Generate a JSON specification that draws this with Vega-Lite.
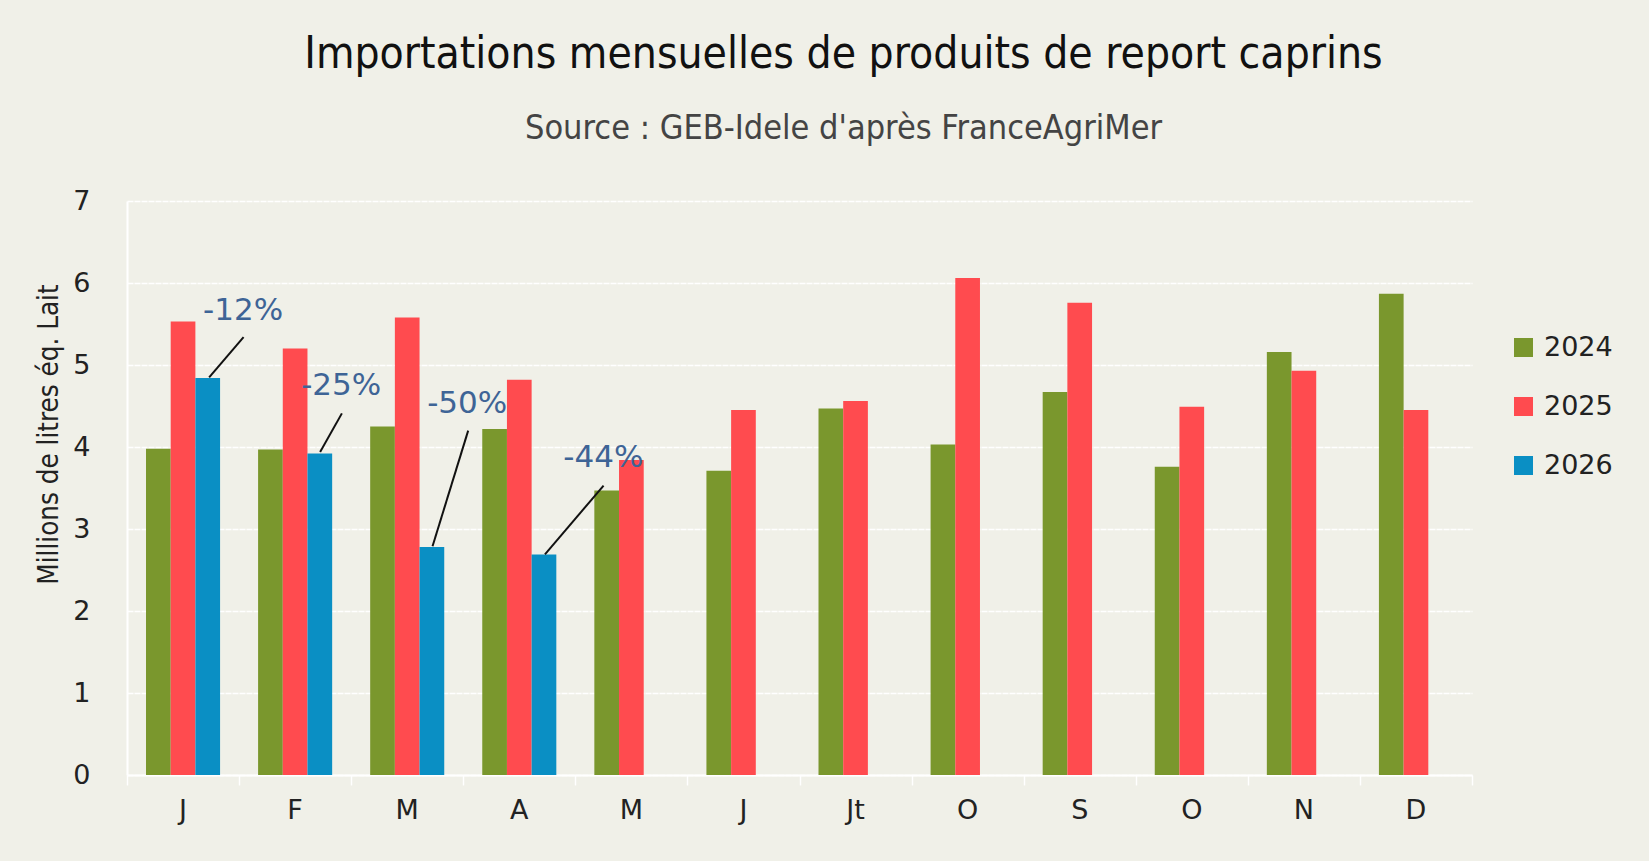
{
  "$schema": "https://vega.github.io/schema/vega-lite/v6.json",
  "autosize": {"type": "none"},
  "width": 1345,
  "height": 574,
  "padding": {"left": 127, "top": 201, "right": 177, "bottom": 86},
  "background": "#F0F0E8",
  "title": {
    "text": "Importations mensuelles de produits de report caprins",
    "subtitle": "Source : GEB-Idele d'après FranceAgriMer",
    "anchor": "middle",
    "frame": "group",
    "dx": 44,
    "offset": 41,
    "font": "Liberation Sans Narrow, DejaVu Sans Condensed, sans-serif",
    "fontSize": 44,
    "fontWeight": "normal",
    "color": "#111111",
    "subtitleFont": "Liberation Sans Narrow, DejaVu Sans Condensed, sans-serif",
    "subtitleFontSize": 34,
    "subtitleColor": "#444444",
    "subtitlePadding": 35
  },
  "config": {
    "view": {"stroke": null},
    "axis": {"labelFont": "DejaVu Sans", "labelColor": "#222222"}
  },
  "datasets": {
    "bars": [
      {"m": 1, "annee": "2024", "valeur": 3.98},
      {"m": 1, "annee": "2025", "valeur": 5.53},
      {"m": 1, "annee": "2026", "valeur": 4.84},
      {"m": 2, "annee": "2024", "valeur": 3.97},
      {"m": 2, "annee": "2025", "valeur": 5.20},
      {"m": 2, "annee": "2026", "valeur": 3.92},
      {"m": 3, "annee": "2024", "valeur": 4.25},
      {"m": 3, "annee": "2025", "valeur": 5.58},
      {"m": 3, "annee": "2026", "valeur": 2.78},
      {"m": 4, "annee": "2024", "valeur": 4.22},
      {"m": 4, "annee": "2025", "valeur": 4.82},
      {"m": 4, "annee": "2026", "valeur": 2.69},
      {"m": 5, "annee": "2024", "valeur": 3.47},
      {"m": 5, "annee": "2025", "valeur": 3.84},
      {"m": 6, "annee": "2024", "valeur": 3.71},
      {"m": 6, "annee": "2025", "valeur": 4.45},
      {"m": 7, "annee": "2024", "valeur": 4.47},
      {"m": 7, "annee": "2025", "valeur": 4.56},
      {"m": 8, "annee": "2024", "valeur": 4.03},
      {"m": 8, "annee": "2025", "valeur": 6.06},
      {"m": 9, "annee": "2024", "valeur": 4.67},
      {"m": 9, "annee": "2025", "valeur": 5.76},
      {"m": 10, "annee": "2024", "valeur": 3.76},
      {"m": 10, "annee": "2025", "valeur": 4.49},
      {"m": 11, "annee": "2024", "valeur": 5.16},
      {"m": 11, "annee": "2025", "valeur": 4.93},
      {"m": 12, "annee": "2024", "valeur": 5.87},
      {"m": 12, "annee": "2025", "valeur": 4.45}
    ],
    "annotations": [
      {"label": "-12%", "x_barre": 0.733, "y_barre": 4.85, "x_fin": 1.040, "y_fin": 5.34, "x_texte": 1.036, "y_texte": 5.66},
      {"label": "-25%", "x_barre": 1.723, "y_barre": 3.94, "x_fin": 1.917, "y_fin": 4.41, "x_texte": 1.911, "y_texte": 4.75},
      {"label": "-50%", "x_barre": 2.726, "y_barre": 2.79, "x_fin": 3.044, "y_fin": 4.20, "x_texte": 3.035, "y_texte": 4.53},
      {"label": "-44%", "x_barre": 3.729, "y_barre": 2.69, "x_fin": 4.252, "y_fin": 3.53, "x_texte": 4.250, "y_texte": 3.86}
    ]
  },
  "layer": [
    {
      "data": {"name": "bars"},
      "mark": {"type": "bar"},
      "encoding": {
        "x": {
          "field": "m",
          "type": "ordinal",
          "scale": {"paddingInner": 0, "paddingOuter": 0},
          "axis": {
            "orient": "bottom",
            "title": null,
            "labelAngle": 0,
            "labelExpr": "['J','F','M','A','M','J','Jt','O','S','O','N','D'][datum.value - 1]",
            "labelFontSize": 27,
            "labelPadding": 22,
            "ticks": false,
            "domain": false,
            "grid": false
          }
        },
        "xOffset": {
          "field": "annee",
          "type": "nominal",
          "scale": {"domain": ["2024", "2025", "2026"], "paddingInner": 0, "paddingOuter": 0.77}
        },
        "y": {
          "field": "valeur",
          "type": "quantitative",
          "scale": {"domain": [0, 7], "nice": false},
          "axis": {
            "orient": "left",
            "title": "Millions de litres éq. Lait",
            "titleFont": "Liberation Sans Narrow, DejaVu Sans Condensed, sans-serif",
            "titleFontSize": 27.5,
            "titleFontWeight": "normal",
            "titleColor": "#222222",
            "titleAngle": 270,
            "titleAlign": "center",
            "titleBaseline": "middle",
            "titleX": -78,
            "titleY": 233,
            "values": [0, 1, 2, 3, 4, 5, 6, 7],
            "labelFontSize": 27,
            "labelPadding": 37,
            "ticks": false,
            "domain": true,
            "domainColor": "#FFFFFF",
            "domainWidth": 2,
            "grid": true,
            "gridColor": "#FFFFFF",
            "gridWidth": 1.4,
            "gridDash": [6, 1]
          }
        },
        "color": {
          "field": "annee",
          "type": "nominal",
          "scale": {"domain": ["2024", "2025", "2026"], "range": ["#7A972D", "#FF4B4F", "#0A8FC4"]},
          "legend": {
            "title": null,
            "orient": "none",
            "legendX": 1383,
            "legendY": 133,
            "padding": 0,
            "symbolType": "square",
            "symbolSize": 361,
            "symbolStrokeWidth": 0,
            "labelFont": "DejaVu Sans",
            "labelFontSize": 27,
            "labelColor": "#222222",
            "labelOffset": 7,
            "rowPadding": 31
          }
        }
      }
    },
    {
      "data": {"name": "annotations"},
      "mark": {"type": "rule", "color": "#111111", "strokeWidth": 2},
      "encoding": {
        "x": {
          "field": "x_barre",
          "type": "quantitative",
          "scale": {"domain": [0, 12], "nice": false, "zero": false},
          "axis": {
            "orient": "bottom",
            "title": null,
            "values": [0, 1, 2, 3, 4, 5, 6, 7, 8, 9, 10, 11, 12],
            "labels": false,
            "grid": false,
            "ticks": true,
            "tickSize": 10,
            "tickColor": "#FFFFFF",
            "tickWidth": 1.5,
            "domain": true,
            "domainColor": "#FFFFFF",
            "domainWidth": 2
          }
        },
        "x2": {"field": "x_fin"},
        "y": {"field": "y_barre", "type": "quantitative", "scale": {"domain": [0, 7], "nice": false}, "axis": null},
        "y2": {"field": "y_fin"}
      }
    },
    {
      "data": {"name": "annotations"},
      "mark": {"type": "text", "font": "DejaVu Sans", "fontSize": 31, "color": "#3E6496", "align": "center", "baseline": "middle"},
      "encoding": {
        "x": {"field": "x_texte", "type": "quantitative", "scale": {"domain": [0, 12], "nice": false, "zero": false}, "axis": null},
        "y": {"field": "y_texte", "type": "quantitative", "scale": {"domain": [0, 7], "nice": false}, "axis": null},
        "text": {"field": "label"}
      }
    }
  ],
  "resolve": {"scale": {"x": "independent"}, "axis": {"y": "independent"}}
}
